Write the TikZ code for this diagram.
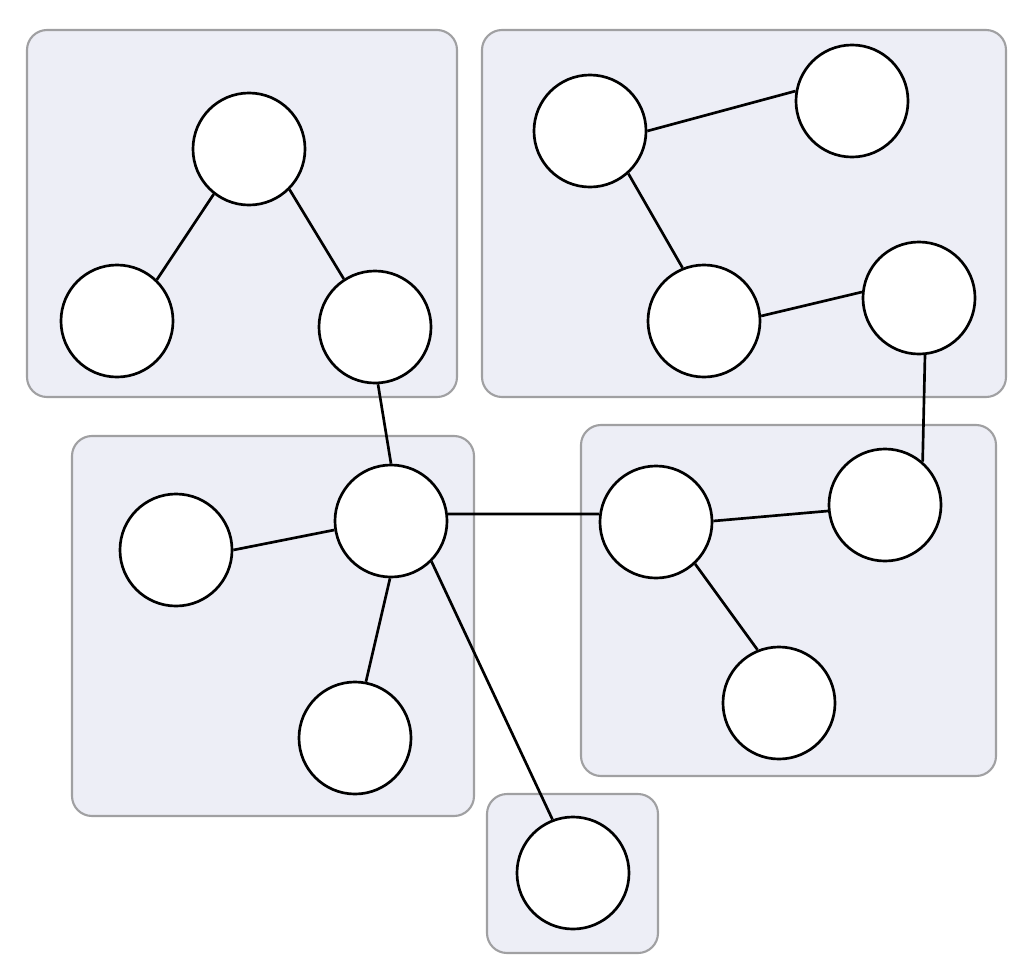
\documentclass[tikz,border=0pt]{standalone}
\usepackage{tikz}
\usetikzlibrary{calc, positioning}

\definecolor{groupFill}{RGB}{237,238,246}
\definecolor{groupLine}{RGB}{160,160,162}

\begin{document}
\begin{tikzpicture}[x=0.025cm, y=-0.025cm,
	group/.style={draw=groupLine, line width=1.5pt, fill=groupFill, rounded corners=0.5cm},
	vertex/.style={circle, draw, line width=1.9pt, fill=white, minimum size=2.8cm, inner sep=0pt},
	link/.style={line width=1.9pt}]
	\useasboundingbox (0,0) rectangle (1032,973);

	\draw[group] (27,30) rectangle (457,397);
	\draw[group] (482,30) rectangle (1006,397);
	\draw[group] (72,436) rectangle (474,816);
	\draw[group] (581,425) rectangle (996,776);
	\draw[group] (487,794) rectangle (658,953);

	\node[vertex] (a1) at (249,149) {};
	\node[vertex] (a2) at (117,321) {};
	\node[vertex] (a3) at (375,327) {};

	\node[vertex] (b1) at (590,131) {};
	\node[vertex] (b2) at (852,101) {};
	\node[vertex] (b3) at (704,321) {};
	\node[vertex] (b4) at (919,298) {};

	\node[vertex] (c1) at (391,521) {};
	\node[vertex] (c2) at (176,550) {};
	\node[vertex] (c3) at (355,738) {};

	\node[vertex] (d1) at (656,522) {};
	\node[vertex] (d2) at (885,505) {};
	\node[vertex] (d3) at (779,703) {};

	\node[vertex] (e1) at (573,873) {};

	\draw[link] (a1.-128) -- (a2.46);
	\draw[link] (a1.-45) -- (a3.123);
	\draw[link] (a3.-87) -- (c1.90);
	\draw[link] (b1.0) -- (b2.170);
	\draw[link] (b1.-48) -- (b3.112);
	\draw[link] (b3.5) -- (b4.174);
	\draw[link] (b4.-84) -- (d2.49);
	\draw[link] (c1.189) -- (c2.0);
	\draw[link] (c1.-91) -- (c3.79);
	\draw[link] (c1.7) -- (d1.172);
	\draw[link] (c1.-45) -- (e1.111);
	\draw[link] (d1.1) -- (d2.186);
	\draw[link] (d1.-47) -- (d3.112);

\end{tikzpicture}
\end{document}
